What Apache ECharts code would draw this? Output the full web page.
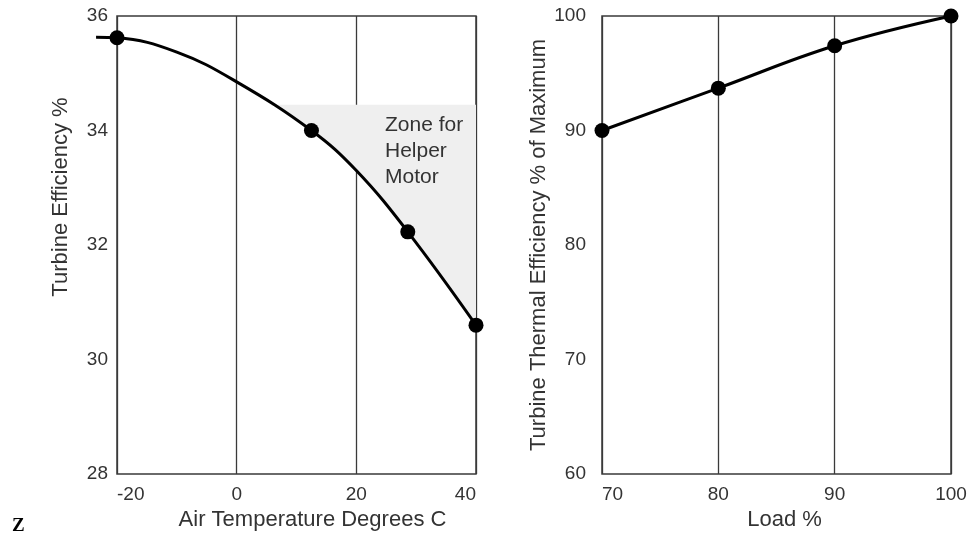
<!DOCTYPE html>
<html>
<head>
<meta charset="utf-8">
<script src="https://cdn.jsdelivr.net/npm/echarts@6/dist/echarts.min.js"></script>
<style>
  html, body { margin: 0; padding: 0; background: #fff; }
  #chart { width: 972px; height: 540px; }
</style>
</head>
<body>
<div id="chart"></div>
<script>
// left panel: efficiency vs air temperature
const tempCurve = [[-23.5, 35.63], [-20, 35.62], [-10, 35.37], [0, 34.85], [12.5, 34.0], [20, 33.3], [28.6, 32.23], [40, 30.6]];
const tempPoints = [[-20, 35.62], [12.5, 34.0], [28.6, 32.23], [40, 30.6]];
const zoneTop = 34.45;
const zoneCurve = [[5.7, 34.45], [12.5, 34.0], [20, 33.3], [28.6, 32.23], [40, 30.6]];

// right panel: thermal efficiency vs load
const loadPoints = [[70, 90], [80, 93.7], [90, 97.4], [100, 100]];

const ink = '#333';
const font = 'Liberation Sans, Arial, sans-serif';

// the curve runs a little past -20, so it gets its own wider (hidden) grid
const leftX = 117, leftW = 359, tMin = -20, tMax = 40;
const extMin = -23.5;
const extLeft = leftX - (tMin - extMin) * leftW / (tMax - tMin);

const chart = echarts.init(document.getElementById('chart'));

const baseX = {
  type: 'value',
  axisLine: { show: false },
  axisTick: { show: false },
  splitLine: { show: true, lineStyle: { color: '#3a3a3a', width: 1.3 } },
  axisLabel: { color: ink, fontSize: 19, fontFamily: font, margin: 11 },
  nameLocation: 'middle',
  nameGap: 35,
  nameTextStyle: { color: ink, fontSize: 22, fontFamily: font }
};
const baseY = {
  type: 'value',
  axisLine: { show: false },
  axisTick: { show: false },
  splitLine: { show: false },
  axisLabel: { color: ink, fontSize: 19, fontFamily: font },
  nameLocation: 'middle',
  nameTextStyle: { color: ink, fontSize: 22, fontFamily: font }
};
const hidden = { type: 'value', show: false, splitLine: { show: false } };

chart.setOption({
  animation: false,
  grid: [
    { left: leftX, width: leftW, top: 16, bottom: 66, show: true, borderColor: '#3a3a3a', borderWidth: 1.5 },
    { left: 602, right: 21, top: 16, bottom: 66, show: true, borderColor: '#3a3a3a', borderWidth: 1.5 },
    { left: extLeft, width: leftX + leftW - extLeft, top: 16, bottom: 66, show: false }
  ],
  xAxis: [
    Object.assign({}, baseX, {
      gridIndex: 0, min: tMin, max: tMax, interval: 20,
      name: 'Air Temperature Degrees C',
      nameTextStyle: Object.assign({}, baseX.nameTextStyle, { padding: [0, 0, 0, 32] }),
      axisLabel: Object.assign({}, baseX.axisLabel, { alignMinLabel: 'left', alignMaxLabel: 'right' })
    }),
    Object.assign({}, baseX, {
      gridIndex: 1, min: 70, max: 100, interval: 10,
      name: 'Load %',
      nameTextStyle: Object.assign({}, baseX.nameTextStyle, { padding: [0, 0, 0, 16] }),
      axisLabel: Object.assign({}, baseX.axisLabel, { alignMinLabel: 'left' })
    }),
    Object.assign({}, hidden, { gridIndex: 2, min: extMin, max: tMax })
  ],
  yAxis: [
    Object.assign({}, baseY, {
      gridIndex: 0, min: 28, max: 36, interval: 2,
      name: 'Turbine Efficiency %', nameGap: 45,
      nameTextStyle: Object.assign({}, baseY.nameTextStyle, { padding: [0, 0, 0, 96] }),
      axisLabel: Object.assign({}, baseY.axisLabel, { margin: 9 })
    }),
    Object.assign({}, baseY, {
      gridIndex: 1, min: 60, max: 100, interval: 10,
      name: 'Turbine Thermal Efficiency % of Maximum', nameGap: 51,
      axisLabel: Object.assign({}, baseY.axisLabel, { margin: 16 })
    }),
    Object.assign({}, hidden, { gridIndex: 2, min: 28, max: 36 })
  ],
  series: [
    {
      // helper motor zone, filled from the curve up to zoneTop
      type: 'line', xAxisIndex: 0, yAxisIndex: 0,
      data: zoneCurve, smooth: 0.4, symbol: 'none', silent: true,
      lineStyle: { width: 0 },
      areaStyle: { origin: zoneTop, color: '#efefef', opacity: 1 },
      z: 1
    },
    {
      type: 'line', xAxisIndex: 2, yAxisIndex: 2,
      data: tempCurve, smooth: 0.4, symbol: 'none', clip: false,
      lineStyle: { color: '#000', width: 3 }, z: 3
    },
    {
      type: 'scatter', xAxisIndex: 0, yAxisIndex: 0,
      data: tempPoints, symbolSize: 15, clip: false,
      itemStyle: { color: '#000', opacity: 1 }, z: 4
    },
    {
      type: 'line', xAxisIndex: 1, yAxisIndex: 1,
      data: loadPoints, smooth: 0.4, symbol: 'circle', symbolSize: 15, clip: false,
      lineStyle: { color: '#000', width: 3 },
      itemStyle: { color: '#000', opacity: 1 }, z: 3
    }
  ],
  graphic: [
    {
      type: 'text', left: 385, top: 112,
      style: {
        text: 'Zone for\nHelper\nMotor', fill: ink, fontSize: 21, fontFamily: font,
        lineHeight: 26, align: 'center'
      },
      z: 5
    },
    {
      type: 'text', left: 12, top: 517,
      style: { text: 'Z', fill: '#000', fontSize: 19, fontWeight: 'bold', fontFamily: 'Liberation Serif, serif' }
    }
  ]
});
</script>
</body>
</html>
